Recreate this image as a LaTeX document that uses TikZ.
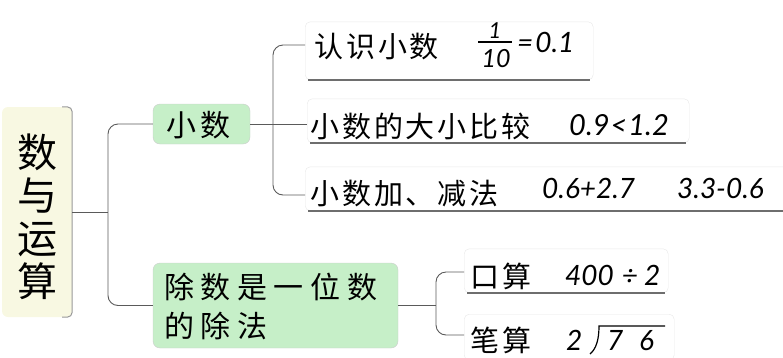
\documentclass[tikz,border=0pt]{standalone}
\usepackage{fontspec}
\newfontfamily\cjk{Noto Sans CJK SC}
\newfontfamily\cjksp[LetterSpace=16]{Noto Sans CJK SC}
\newfontfamily\cjkbig[LetterSpace=22]{Noto Sans CJK SC}
\newfontfamily\cjkleaf[LetterSpace=10]{Noto Sans CJK SC}
\newfontfamily\numf{Lato}
\definecolor{rootfill}{HTML}{F8F8E2}
\definecolor{greenfill}{HTML}{C6EFC8}
\definecolor{linegray}{HTML}{5A5A5A}
\definecolor{ulgray}{HTML}{6E6E6E}
\begin{document}
\begin{tikzpicture}[x=1pt,y=-1pt,
  rootbox/.style={fill=rootfill, rounded corners=6pt, minimum width=70pt, minimum height=210pt, inner sep=0pt},
  greenbox/.style={fill=greenfill, draw=gray!40, rounded corners=7pt, inner sep=0pt},
  leafbox/.style={draw=gray!18, fill=white, rounded corners=5pt, inner sep=0pt},
  conn/.style={draw=linegray, line width=0.9pt, rounded corners=10pt},
  uline/.style={draw=ulgray, line width=1.1pt},
  cjkt/.style={font=\cjkleaf\fontsize{29}{29}\selectfont, inner sep=0pt, anchor=base west},
  numt/.style={font=\numf\itshape\fontsize{28}{28}\selectfont, inner sep=0pt, anchor=base west}]
\useasboundingbox (0,0) rectangle (783,357);
% root
\node[rootbox] (root) at (37,212) {};
\draw[gray!80, line width=1pt, rounded corners=5pt] ([xshift=-10pt]root.north east) -- (root.north east) -- (root.south east) -- ([xshift=-10pt]root.south east);
\node[font=\cjk\fontsize{40}{43}\selectfont, align=center, inner sep=0pt] (roottext) at (37,217) {数\\与\\运\\算};
% second level
\node[greenbox, minimum width=97pt, minimum height=40pt] (xs) at (201.5,124) {};
\node[font=\cjksp\fontsize{30}{30}\selectfont, inner sep=0pt, anchor=base west] (xstext) at (166,136) {小数};
\node[greenbox, minimum width=245pt, minimum height=85pt] (cs) at (275.5,305.5) {};
\node[font=\cjkbig\fontsize{30}{39}\selectfont, align=left, inner sep=0pt, anchor=west] (cstext) at (164,306) {除数是一位数\\的除法};
% leaf boxes
\node[leafbox, minimum width=288pt, minimum height=58pt, anchor=south west] (leaf1) at (305,80) {};
\node[leafbox, minimum width=382pt, minimum height=44pt, anchor=south west] (leaf2) at (307,143) {};
\node[leafbox, minimum width=490pt, minimum height=44pt, anchor=south west] (leaf3) at (305,211) {};
\node[leafbox, minimum width=204pt, minimum height=44pt, anchor=south west] (leaf4) at (464,293) {};
\node[leafbox, minimum width=210pt, minimum height=46pt, anchor=north west] (leaf5) at (464,314) {};
\draw[uline] ([xshift=3pt]leaf1.south west) -- ([xshift=-3pt]leaf1.south east);
\draw[uline] ([xshift=3pt]leaf2.south west) -- ([xshift=-3pt]leaf2.south east);
\draw[uline] ([xshift=3pt]leaf3.south west) -- ([xshift=-3pt]leaf3.south east);
\draw[uline] ([xshift=3pt]leaf4.south west) -- ([xshift=-3pt]leaf4.south east);
% connectors
\coordinate (j1) at (108,212);
\coordinate (j2) at (273,124);
\coordinate (j3) at (436,305.5);
\coordinate (l1in) at (305,45);
\coordinate (l2in) at (307,124);
\coordinate (l3in) at (305,195);
\coordinate (l4in) at (464,272);
\coordinate (l5in) at (464,335);
\draw[conn] (xs.west) -| (j1) |- (cs.west);
\draw[conn, rounded corners=0pt] (root.east) -- (j1);
\draw[conn] (l1in) -| (j2) |- (l3in);
\draw[conn, rounded corners=0pt] (xs.east) -- (l2in);
\draw[conn] (l4in) -| (j3) |- (l5in);
\draw[conn, rounded corners=0pt] (cs.east) -- (j3);
% leaf texts
\node[cjkt] (t1) at (314,57) {认识小数};
\node[font=\numf\itshape\fontsize{22}{22}\selectfont, inner sep=0pt, anchor=base] (f1) at (495,38) {1};
\node[font=\numf\itshape\fontsize{25}{25}\selectfont, inner sep=0pt, anchor=base] (f2) at (496,67) {10};
\draw[line width=1.2pt] (478,42) -- (512,42);
\node[numt] (t1n) at (517,52) {=\hspace{2pt}0.1};
\node[cjkt] (t2) at (310,137) {小数的大小比较};
\node[numt, font=\numf\itshape\fontsize{29}{29}\selectfont] (t2n) at (569,135) {0.9\hspace{1pt}<\hspace{1pt}1.2};
\node[cjkt] (t3) at (310,204) {小数加、减法};
\node[numt] (t3n) at (542,198) {0.6+2.7};
\node[numt] (t3m) at (677,198) {3.3-0.6};
\node[cjkt] (t4) at (470,287) {口算};
\node[numt] (t4n) at (565,285) {400\hspace{8pt}÷\hspace{6pt}2};
\node[cjkt] (t5) at (470,351) {笔算};
\node[numt] (t5n) at (566,350) {2};
\node[numt] (t5a) at (607,350) {7};
\node[numt] (t5b) at (639,350) {6};
\draw[line width=1.2pt] (665,326) -- (599,326) .. controls (599,340) and (596,349) .. (590,354);
\end{tikzpicture}
\end{document}
